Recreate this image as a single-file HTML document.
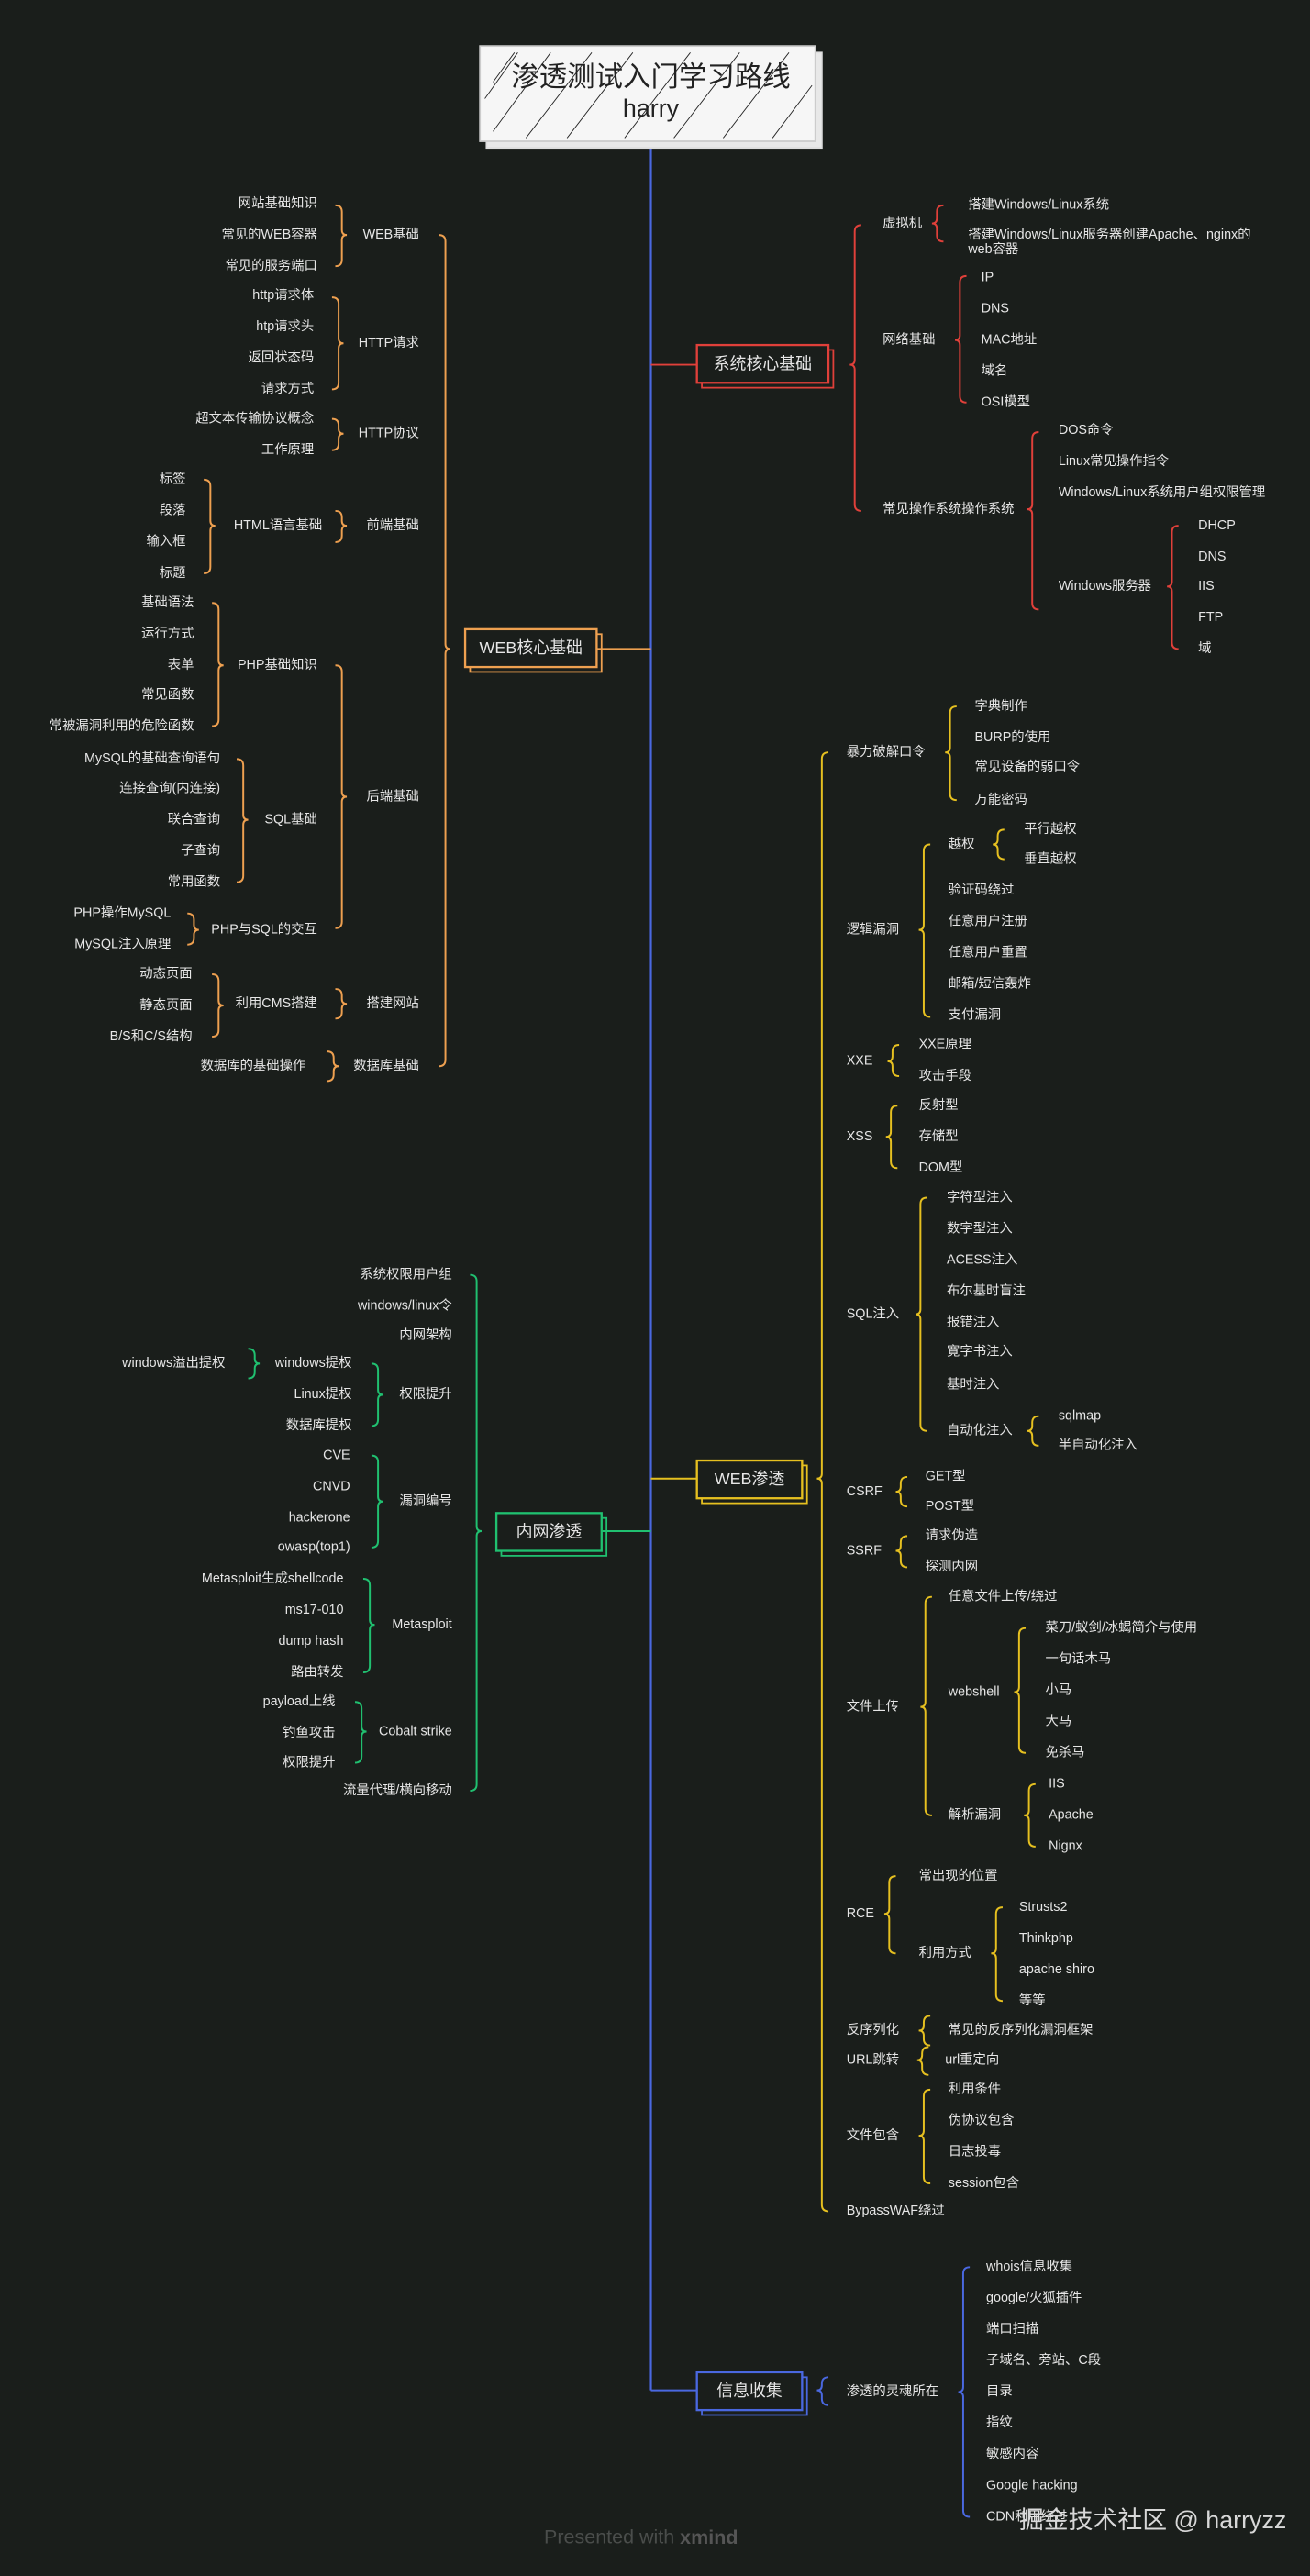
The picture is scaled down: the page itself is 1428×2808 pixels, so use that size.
<!DOCTYPE html>
<html><head><meta charset="utf-8"><style>
html,body{margin:0;padding:0;background:#1a1e1b;}
svg{display:block;}
text{font-family:"Liberation Sans","Noto Sans CJK SC",sans-serif;fill:#e6e6e6;font-size:8px;dominant-baseline:middle;}
.e{text-anchor:end;}
.b{font-size:10px;text-anchor:middle;}
path{fill:none;stroke-width:1.1;}
.r{stroke:#e0403a}.o{stroke:#eea050}.y{stroke:#e6c020}.g{stroke:#20c070}.bl{stroke:#4a68e0}
</style></head><body>
<svg width="1428" height="2808" viewBox="0 0 797 1568" preserveAspectRatio="none" xmlns="http://www.w3.org/2000/svg">
<rect width="797" height="1568" fill="#1a1e1b"/>
<line x1="396" y1="88" x2="396" y2="1455" stroke="#4a68e0" stroke-width="1.2"/>
<rect x="296" y="32" width="204" height="58" fill="#e8e8e8" stroke="#ddd"/>
<rect x="292" y="28" width="204" height="58" fill="#f6f6f6" stroke="#ccc"/>
<g stroke="#222" stroke-width="0.5">
<line x1="295" y1="60" x2="315" y2="32"/><line x1="300" y1="80" x2="335" y2="32"/><line x1="320" y1="84" x2="360" y2="32"/>
<line x1="345" y1="84" x2="385" y2="32"/><line x1="380" y1="84" x2="420" y2="32"/><line x1="410" y1="84" x2="450" y2="32"/>
<line x1="440" y1="84" x2="480" y2="32"/><line x1="470" y1="84" x2="494" y2="52"/><line x1="300" y1="50" x2="313" y2="32"/>
</g>
<text x="396" y="48" class="b" style="font-size:17px;fill:#222">渗透测试入门学习路线</text>
<text x="396" y="67" class="b" style="font-size:15px;fill:#222">harry</text>

<line x1="396" y1="222" x2="424" y2="222" stroke="#e0403a"/>
<rect x="427" y="213" width="80" height="23" fill="none" stroke="#e0403a"/>
<rect x="424" y="210" width="80" height="23" fill="#1a1e1b" stroke="#e0403a" stroke-width="1.3"/>
<text x="464" y="222" class="b">系统核心基础</text>
<path class="r" d="M524 137Q520 137 520 141V219Q520 222 517 222Q520 222 520 225V307Q520 311 524 311"/>
<path class="r" d="M574 125Q570 125 570 129V133Q570 136 567 136Q570 136 570 139V143Q570 147 574 147"/>
<path class="r" d="M588 168Q584 168 584 172V204Q584 207 581 207Q584 207 584 210V241Q584 245 588 245"/>
<path class="r" d="M632 263Q628 263 628 267V307Q628 310 625 310Q628 310 628 313V367Q628 371 632 371"/>
<path class="r" d="M717 320Q713 320 713 324V354Q713 357 710 357Q713 357 713 360V391Q713 395 717 395"/>
<text x="537" y="136">虚拟机</text><text x="537" y="207">网络基础</text><text x="537" y="310">常见操作系统操作系统</text>
<text x="589" y="125">搭建Windows/Linux系统</text><text x="589" y="143">搭建Windows/Linux服务器创建Apache、nginx的</text><text x="589" y="152">web容器</text>
<text x="597" y="169">IP</text><text x="597" y="188">DNS</text><text x="597" y="207">MAC地址</text><text x="597" y="226">域名</text><text x="597" y="245">OSI模型</text>
<text x="644" y="262">DOS命令</text><text x="644" y="281">Linux常见操作指令</text><text x="644" y="300">Windows/Linux系统用户组权限管理</text><text x="644" y="357">Windows服务器</text>
<text x="729" y="320">DHCP</text><text x="729" y="339">DNS</text><text x="729" y="357">IIS</text><text x="729" y="376">FTP</text><text x="729" y="395">域</text>

<line x1="363" y1="395" x2="396" y2="395" stroke="#eea050" stroke-width="1.1"/>
<rect x="286" y="386" width="80" height="23" fill="none" stroke="#eea050"/>
<rect x="283" y="383" width="80" height="23" fill="#1a1e1b" stroke="#eea050" stroke-width="1.3"/>
<text x="323" y="395" class="b">WEB核心基础</text>
<path class="o" d="M267 143Q271 143 271 147V392Q271 395 274 395Q271 395 271 398V645Q271 649 267 649"/>
<path class="o" d="M204 125Q208 125 208 129V140Q208 143 211 143Q208 143 208 146V158Q208 162 204 162"/>
<path class="o" d="M202 181Q206 181 206 185V206Q206 209 209 209Q206 209 206 212V233Q206 237 202 237"/>
<path class="o" d="M202 255Q206 255 206 259V261Q206 264 209 264Q206 264 206 267V270Q206 274 202 274"/>
<path class="o" d="M204 311Q208 311 208 315V317Q208 320 211 320Q208 320 208 323V326Q208 330 204 330"/>
<path class="o" d="M124 292Q128 292 128 296V317Q128 320 131 320Q128 320 128 323V345Q128 349 124 349"/>
<path class="o" d="M204 405Q208 405 208 409V482Q208 485 211 485Q208 485 208 488V561Q208 565 204 565"/>
<path class="o" d="M129 367Q133 367 133 371V402Q133 405 136 405Q133 405 133 408V438Q133 442 129 442"/>
<path class="o" d="M144 462Q148 462 148 466V496Q148 499 151 499Q148 499 148 502V533Q148 537 144 537"/>
<path class="o" d="M114 556Q118 556 118 560V563Q118 566 121 566Q118 566 118 569V571Q118 575 114 575"/>
<path class="o" d="M204 602Q208 602 208 606V608Q208 611 211 611Q208 611 208 614V616Q208 620 204 620"/>
<path class="o" d="M129 593Q133 593 133 597V609Q133 612 136 612Q133 612 133 615V627Q133 631 129 631"/>
<path class="o" d="M199 640Q203 640 203 644V646Q203 649 206 649Q203 649 203 652V654Q203 658 199 658"/>
<text x="255" y="143" class="e">WEB基础</text><text x="255" y="209" class="e">HTTP请求</text><text x="255" y="264" class="e">HTTP协议</text><text x="255" y="320" class="e">前端基础</text><text x="255" y="485" class="e">后端基础</text><text x="255" y="611" class="e">搭建网站</text><text x="255" y="649" class="e">数据库基础</text>
<text x="193" y="124" class="e">网站基础知识</text><text x="193" y="143" class="e">常见的WEB容器</text><text x="193" y="162" class="e">常见的服务端口</text>
<text x="191" y="180" class="e">http请求体</text><text x="191" y="199" class="e">htp请求头</text><text x="191" y="218" class="e">返回状态码</text><text x="191" y="237" class="e">请求方式</text>
<text x="191" y="255" class="e">超文本传输协议概念</text><text x="191" y="274" class="e">工作原理</text>
<text x="196" y="320" class="e">HTML语言基础</text>
<text x="113" y="292" class="e">标签</text><text x="113" y="311" class="e">段落</text><text x="113" y="330" class="e">输入框</text><text x="113" y="349" class="e">标题</text>
<text x="193" y="405" class="e">PHP基础知识</text><text x="193" y="499" class="e">SQL基础</text><text x="193" y="566" class="e">PHP与SQL的交互</text>
<text x="118" y="367" class="e">基础语法</text><text x="118" y="386" class="e">运行方式</text><text x="118" y="405" class="e">表单</text><text x="118" y="423" class="e">常见函数</text><text x="118" y="442" class="e">常被漏洞利用的危险函数</text>
<text x="134" y="462" class="e">MySQL的基础查询语句</text><text x="134" y="480" class="e">连接查询(内连接)</text><text x="134" y="499" class="e">联合查询</text><text x="134" y="518" class="e">子查询</text><text x="134" y="537" class="e">常用函数</text>
<text x="104" y="556" class="e">PHP操作MySQL</text><text x="104" y="575" class="e">MySQL注入原理</text>
<text x="193" y="611" class="e">利用CMS搭建</text>
<text x="117" y="593" class="e">动态页面</text><text x="117" y="612" class="e">静态页面</text><text x="117" y="631" class="e">B/S和C/S结构</text>
<text x="186" y="649" class="e">数据库的基础操作</text>

<line x1="366" y1="932" x2="396" y2="932" stroke="#20c070" stroke-width="1.1"/>
<rect x="305" y="924" width="64" height="23" fill="none" stroke="#20c070"/>
<rect x="302" y="921" width="64" height="23" fill="#1a1e1b" stroke="#20c070" stroke-width="1.3"/>
<text x="334" y="933" class="b">内网渗透</text>
<path class="g" d="M286 776Q290 776 290 780V929Q290 932 293 932Q290 932 290 935V1086Q290 1090 286 1090"/>
<path class="g" d="M226 830Q230 830 230 834V846Q230 849 233 849Q230 849 230 852V864Q230 868 226 868"/>
<path class="g" d="M151 821Q155 821 155 825V827Q155 830 158 830Q155 830 155 833V835Q155 839 151 839"/>
<path class="g" d="M226 886Q230 886 230 890V911Q230 914 233 914Q230 914 230 917V938Q230 942 226 942"/>
<path class="g" d="M221 961Q225 961 225 965V986Q225 989 228 989Q225 989 225 992V1014Q225 1018 221 1018"/>
<path class="g" d="M216 1036Q220 1036 220 1040V1051Q220 1054 223 1054Q220 1054 220 1057V1069Q220 1073 216 1073"/>
<text x="275" y="776" class="e">系统权限用户组</text><text x="275" y="795" class="e">windows/linux令</text><text x="275" y="813" class="e">内网架构</text><text x="275" y="849" class="e">权限提升</text><text x="275" y="914" class="e">漏洞编号</text><text x="275" y="989" class="e">Metasploit</text><text x="275" y="1054" class="e">Cobalt strike</text><text x="275" y="1090" class="e">流量代理/横向移动</text>
<text x="214" y="830" class="e">windows提权</text><text x="214" y="849" class="e">Linux提权</text><text x="214" y="868" class="e">数据库提权</text>
<text x="137" y="830" class="e">windows溢出提权</text>
<text x="213" y="886" class="e">CVE</text><text x="213" y="905" class="e">CNVD</text><text x="213" y="924" class="e">hackerone</text><text x="213" y="942" class="e">owasp(top1)</text>
<text x="209" y="961" class="e">Metasploit生成shellcode</text><text x="209" y="980" class="e">ms17-010</text><text x="209" y="999" class="e">dump hash</text><text x="209" y="1018" class="e">路由转发</text>
<text x="204" y="1036" class="e">payload上线</text><text x="204" y="1055" class="e">钓鱼攻击</text><text x="204" y="1073" class="e">权限提升</text>

<line x1="396" y1="900" x2="424" y2="900" stroke="#e6c020" stroke-width="1.1"/>
<rect x="427" y="892" width="64" height="23" fill="none" stroke="#e6c020"/>
<rect x="424" y="889" width="64" height="23" fill="#1a1e1b" stroke="#e6c020" stroke-width="1.3"/>
<text x="456" y="901" class="b">WEB渗透</text>
<path class="y" d="M504 458Q500 458 500 462V897Q500 900 497 900Q500 900 500 903V1342Q500 1346 504 1346"/>
<path class="y" d="M582 430Q578 430 578 434V455Q578 458 575 458Q578 458 578 461V483Q578 487 582 487"/>
<path class="y" d="M566 514Q562 514 562 518V563Q562 566 559 566Q562 566 562 569V615Q562 619 566 619"/>
<path class="y" d="M611 505Q607 505 607 509V511Q607 514 604 514Q607 514 607 517V519Q607 523 611 523"/>
<path class="y" d="M547 636Q543 636 543 640V643Q543 646 540 646Q543 646 543 649V651Q543 655 547 655"/>
<path class="y" d="M546 673Q542 673 542 677V689Q542 692 539 692Q542 692 542 695V707Q542 711 546 711"/>
<path class="y" d="M564 729Q560 729 560 733V797Q560 800 557 800Q560 800 560 803V867Q560 871 564 871"/>
<path class="y" d="M632 862Q628 862 628 866V868Q628 871 625 871Q628 871 628 874V876Q628 880 632 880"/>
<path class="y" d="M552 899Q548 899 548 903V905Q548 908 545 908Q548 908 548 911V913Q548 917 552 917"/>
<path class="y" d="M552 935Q548 935 548 939V941Q548 944 545 944Q548 944 548 947V950Q548 954 552 954"/>
<path class="y" d="M567 972Q563 972 563 976V1036Q563 1039 560 1039Q563 1039 563 1042V1101Q563 1105 567 1105"/>
<path class="y" d="M624 991Q620 991 620 995V1027Q620 1030 617 1030Q620 1030 620 1033V1063Q620 1067 624 1067"/>
<path class="y" d="M630 1086Q626 1086 626 1090V1102Q626 1105 623 1105Q626 1105 626 1108V1120Q626 1124 630 1124"/>
<path class="y" d="M545 1142Q541 1142 541 1146V1162Q541 1165 538 1165Q541 1165 541 1168V1185Q541 1189 545 1189"/>
<path class="y" d="M610 1161Q606 1161 606 1165V1186Q606 1189 603 1189Q606 1189 606 1192V1214Q606 1218 610 1218"/>
<path class="y" d="M566 1227Q562 1227 562 1231V1233Q562 1236 559 1236Q562 1236 562 1239V1241Q562 1245 566 1245"/>
<path class="y" d="M565 1246Q561 1246 561 1250V1251Q561 1254 558 1254Q561 1254 561 1257V1259Q561 1263 565 1263"/>
<path class="y" d="M566 1272Q562 1272 562 1276V1297Q562 1300 559 1300Q562 1300 562 1303V1325Q562 1329 566 1329"/>
<text x="515" y="458">暴力破解口令</text><text x="515" y="566">逻辑漏洞</text><text x="515" y="646">XXE</text><text x="515" y="692">XSS</text><text x="515" y="800">SQL注入</text><text x="515" y="908">CSRF</text><text x="515" y="944">SSRF</text><text x="515" y="1039">文件上传</text><text x="515" y="1165">RCE</text><text x="515" y="1236">反序列化</text><text x="515" y="1254">URL跳转</text><text x="515" y="1300">文件包含</text><text x="515" y="1346">BypassWAF绕过</text>
<text x="593" y="430">字典制作</text><text x="593" y="449">BURP的使用</text><text x="593" y="467">常见设备的弱口令</text><text x="593" y="487">万能密码</text>
<text x="577" y="514">越权</text><text x="577" y="542">验证码绕过</text><text x="577" y="561">任意用户注册</text><text x="577" y="580">任意用户重置</text><text x="577" y="599">邮箱/短信轰炸</text><text x="577" y="618">支付漏洞</text>
<text x="623" y="505">平行越权</text><text x="623" y="523">垂直越权</text>
<text x="559" y="636">XXE原理</text><text x="559" y="655">攻击手段</text>
<text x="559" y="673">反射型</text><text x="559" y="692">存储型</text><text x="559" y="711">DOM型</text>
<text x="576" y="729">字符型注入</text><text x="576" y="748">数字型注入</text><text x="576" y="767">ACESS注入</text><text x="576" y="786">布尔基时盲注</text><text x="576" y="805">报错注入</text><text x="576" y="823">寛字书注入</text><text x="576" y="843">基时注入</text><text x="576" y="871">自动化注入</text>
<text x="644" y="862">sqlmap</text><text x="644" y="880">半自动化注入</text>
<text x="563" y="899">GET型</text><text x="563" y="917">POST型</text>
<text x="563" y="935">请求伪造</text><text x="563" y="954">探测内网</text>
<text x="577" y="972">任意文件上传/绕过</text><text x="577" y="1030">webshell</text><text x="577" y="1105">解析漏洞</text>
<text x="636" y="991">菜刀/蚁剑/冰蝎简介与使用</text><text x="636" y="1010">一句话木马</text><text x="636" y="1029">小马</text><text x="636" y="1048">大马</text><text x="636" y="1067">免杀马</text>
<text x="638" y="1086">IIS</text><text x="638" y="1105">Apache</text><text x="638" y="1124">Nignx</text>
<text x="559" y="1142">常出现的位置</text><text x="559" y="1189">利用方式</text>
<text x="620" y="1161">Strusts2</text><text x="620" y="1180">Thinkphp</text><text x="620" y="1199">apache shiro</text><text x="620" y="1218">等等</text>
<text x="577" y="1236">常见的反序列化漏洞框架</text><text x="575" y="1254">url重定向</text>
<text x="577" y="1272">利用条件</text><text x="577" y="1291">伪协议包含</text><text x="577" y="1310">日志投毒</text><text x="577" y="1329">session包含</text>

<line x1="396" y1="1455" x2="424" y2="1455" stroke="#4a68e0" stroke-width="1.1"/>
<rect x="427" y="1447" width="64" height="23" fill="none" stroke="#4a68e0"/>
<rect x="424" y="1444" width="64" height="23" fill="#1a1e1b" stroke="#4a68e0" stroke-width="1.3"/>
<text x="456" y="1456" class="b">信息收集</text>
<path class="bl" d="M504 1447Q500 1447 500 1451V1452Q500 1455 497 1455Q500 1455 500 1458V1460Q500 1464 504 1464"/>
<path class="bl" d="M590 1380Q586 1380 586 1384V1453Q586 1456 583 1456Q586 1456 586 1459V1528Q586 1532 590 1532"/>
<text x="515" y="1456">渗透的灵魂所在</text>
<text x="600" y="1380">whois信息收集</text><text x="600" y="1399">google/火狐插件</text><text x="600" y="1418">端口扫描</text><text x="600" y="1437">子域名、旁站、C段</text><text x="600" y="1456">目录</text><text x="600" y="1475">指纹</text><text x="600" y="1494">敏感内容</text><text x="600" y="1513">Google hacking</text><text x="600" y="1532">CDN利用绕过</text>

<text x="620" y="1535" style="font-size:15px;fill:#d8d8d8">掘金技术社区 @ harryzz</text>
<text x="331" y="1545" style="font-size:12px;fill:#4a4d4b">Presented with <tspan style="font-weight:bold;fill:#555">xmind</tspan></text>
</svg>
</body></html>
